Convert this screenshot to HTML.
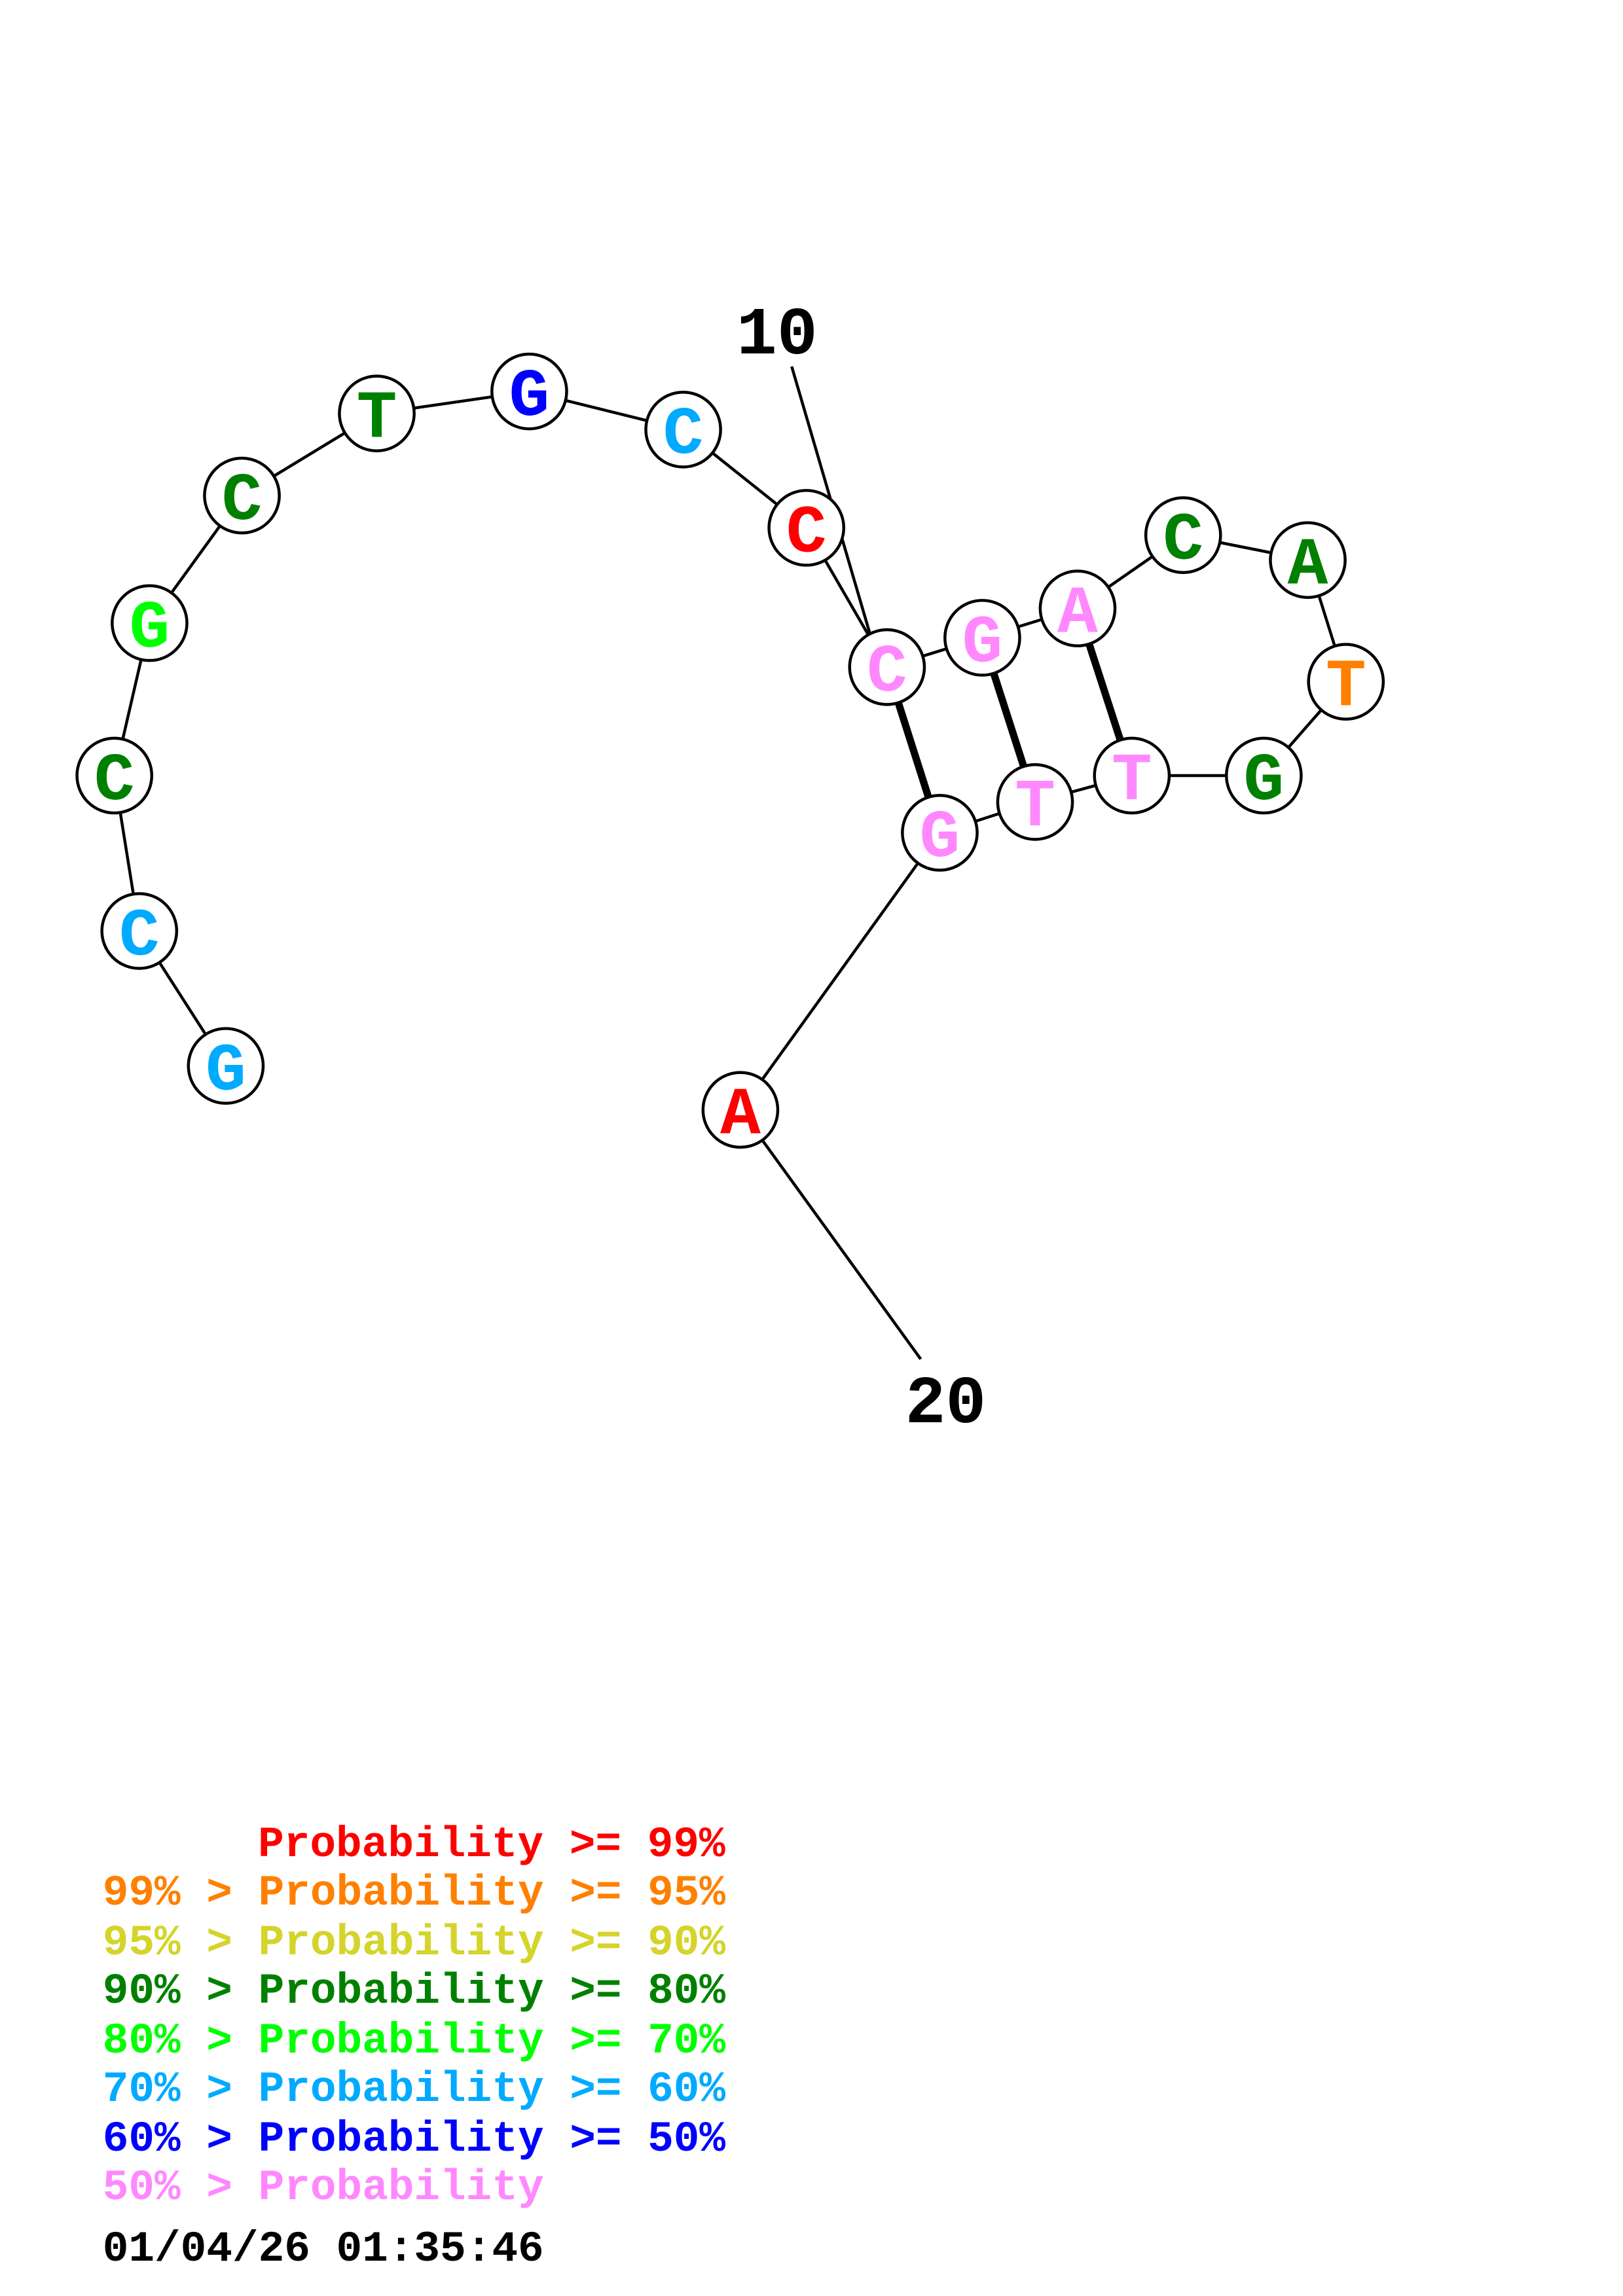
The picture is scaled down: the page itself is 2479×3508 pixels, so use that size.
<!DOCTYPE html>
<html><head><meta charset="utf-8"><style>
html,body{margin:0;padding:0;background:#fff;}
svg{display:block;}
text{font-family:"Liberation Mono","DejaVu Sans Mono",monospace;font-weight:bold;}
</style></head><body>
<svg width="2479" height="3508" viewBox="0 0 1107 1566" preserveAspectRatio="none" xmlns="http://www.w3.org/2000/svg">
<rect width="1107" height="1566" fill="#fff"/>
<g stroke="#000" stroke-width="2" fill="none">
<polyline points="154,727 95,635 78,529 102,425 165,338 257,282 361,267 466,293 550,360 605,455 670,435 735,415 807,365 892,382 918,465 862,529 772,529 706,547 641,568 505,757"/>
<line x1="505" y1="757" x2="628" y2="927"/>
<line x1="540" y1="250" x2="600" y2="455"/>
</g>
<g stroke="#000" stroke-width="5">
<line x1="605" y1="455" x2="641" y2="568"/>
<line x1="670" y1="435" x2="706" y2="547"/>
<line x1="735" y1="415" x2="772" y2="529"/>
</g>
<g stroke="#000" stroke-width="2" fill="#fff">
<circle cx="154" cy="727" r="25.5"/><circle cx="95" cy="635" r="25.5"/><circle cx="78" cy="529" r="25.5"/><circle cx="102" cy="425" r="25.5"/><circle cx="165" cy="338" r="25.5"/><circle cx="257" cy="282" r="25.5"/><circle cx="361" cy="267" r="25.5"/><circle cx="466" cy="293" r="25.5"/><circle cx="550" cy="360" r="25.5"/><circle cx="605" cy="455" r="25.5"/><circle cx="670" cy="435" r="25.5"/><circle cx="735" cy="415" r="25.5"/><circle cx="807" cy="365" r="25.5"/><circle cx="892" cy="382" r="25.5"/><circle cx="918" cy="465" r="25.5"/><circle cx="862" cy="529" r="25.5"/><circle cx="772" cy="529" r="25.5"/><circle cx="706" cy="547" r="25.5"/><circle cx="641" cy="568" r="25.5"/><circle cx="505" cy="757" r="25.5"/>
</g>
<g font-size="46" text-anchor="middle">
<text x="154" y="743" fill="#00aaff">G</text>
<text x="95" y="651" fill="#00aaff">C</text>
<text x="78" y="545" fill="#008000">C</text>
<text x="102" y="441" fill="#00ff00">G</text>
<text x="165" y="354" fill="#008000">C</text>
<text x="257" y="298" fill="#008000">T</text>
<text x="361" y="283" fill="#0000ff">G</text>
<text x="466" y="309" fill="#00aaff">C</text>
<text x="550" y="376" fill="#ff0000">C</text>
<text x="605" y="471" fill="#ff88ff">C</text>
<text x="670" y="451" fill="#ff88ff">G</text>
<text x="735" y="431" fill="#ff88ff">A</text>
<text x="807" y="381" fill="#008000">C</text>
<text x="892" y="398" fill="#008000">A</text>
<text x="918" y="481" fill="#ff8000">T</text>
<text x="862" y="545" fill="#008000">G</text>
<text x="772" y="545" fill="#ff88ff">T</text>
<text x="706" y="563" fill="#ff88ff">T</text>
<text x="641" y="584" fill="#ff88ff">G</text>
<text x="505" y="773" fill="#ff0000">A</text>
</g>
<g font-size="46" fill="#000" text-anchor="middle">
<text x="530" y="241">10</text>
<text x="645" y="970">20</text>
</g>
<g font-size="29.5">
<text x="176" y="1266" fill="#ff0000">Probability &gt;= 99%</text>
<text x="70" y="1299" fill="#ff8000">99% &gt; Probability &gt;= 95%</text>
<text x="70" y="1333" fill="#d4d42a">95% &gt; Probability &gt;= 90%</text>
<text x="70" y="1366" fill="#008000">90% &gt; Probability &gt;= 80%</text>
<text x="70" y="1400" fill="#00ff00">80% &gt; Probability &gt;= 70%</text>
<text x="70" y="1433" fill="#00aaff">70% &gt; Probability &gt;= 60%</text>
<text x="70" y="1467" fill="#0000ff">60% &gt; Probability &gt;= 50%</text>
<text x="70" y="1500" fill="#ff88ff">50% &gt; Probability</text>
<text x="70" y="1542" fill="#000">01/04/26 01:35:46</text>
</g>
</svg>
</body></html>
